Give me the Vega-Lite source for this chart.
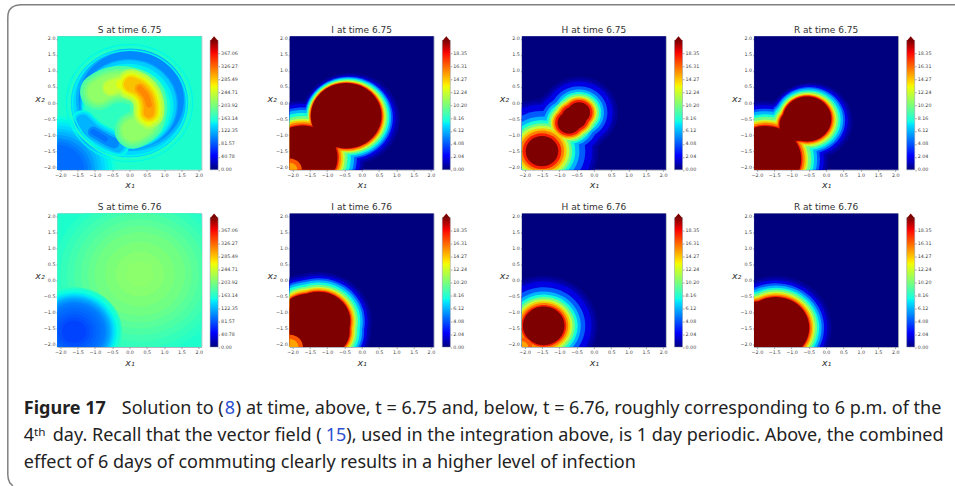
{"$schema":"https://vega.github.io/schema/vega-lite/v6.json","padding":{"left":4.5,"top":1.25,"right":0,"bottom":0},"background":"white","bounds":"flush","columns":8,"spacing":{"row":43.3,"column":8.6},
"config":{"legend":{"disable":true},"range":{"ramp":["#00007f","#0000ff","#007fff","#14ffe2","#7aff7a","#e2ff14","#ff9700","#ff2100","#7f0000"]},"view":{"stroke":"#8a93a0","strokeWidth":0.8},"point":{"filled":true,"opacity":1,"shape":"M1,0C1,.512,.552,.927,0,.927C-.552,.927,-1,.512,-1,0C-1,-.512,-.552,-.927,0,-.927C.552,-.927,1,-.512,1,0Z"},"rect":{"stroke":"#8a93a0","strokeWidth":0.5,"color":{"gradient":"linear","x1":0,"y1":1,"x2":0,"y2":0,"stops":[{"offset":0,"color":"#00007f"},{"offset":0.11,"color":"#0000ff"},{"offset":0.35,"color":"#00e5ff"},{"offset":0.375,"color":"#14ffe2"},{"offset":0.5,"color":"#7aff7a"},{"offset":0.64,"color":"#eeff08"},{"offset":0.66,"color":"#ffec00"},{"offset":0.89,"color":"#ff1300"},{"offset":0.91,"color":"#f60000"},{"offset":1,"color":"#7f0000"}]}},"axis":{"grid":false,"domain":false,"labelOverlap":false,"labelFontSize":4.8,"labelFont":"DejaVu Sans","labelColor":"#444444","labelPadding":1,"tickSize":1.5,"tickWidth":0.5,"tickColor":"#444444","titleFont":"DejaVu Sans","titleFontSize":9.5,"titleFontWeight":"normal","titleFontStyle":"italic","titleColor":"#333333"},"axisX":{"titleBaseline":"middle","titleY":15},"axisY":{"titleAngle":0,"titleAlign":"center","titleBaseline":"middle","titleX":-18,"titleY":62},"title":{"font":"DejaVu Sans","fontSize":9,"fontWeight":"normal","color":"#333333","offset":1}},
"datasets":{
"cbS":[{"lo":0,"hi":407.85,"tip":414}],
"cbI":[{"lo":0,"hi":20.39,"tip":20.7}],
"s675":[{"x":0,"y":0,"r":4,"v":165},{"x":-2.1,"y":-2.1,"r":1.7,"v":157},{"x":-2.1,"y":-2.1,"r":1.6,"v":150},{"x":-2.1,"y":-2.1,"r":1.5,"v":142},{"x":-2.1,"y":-2.1,"r":1.4,"v":135},{"x":-2.1,"y":-2.1,"r":1.3,"v":127},{"x":-2.1,"y":-2.1,"r":1.2,"v":120},{"x":-2.1,"y":-2.1,"r":1.1,"v":112},{"x":-2.1,"y":-2.1,"r":1.0,"v":105},{"x":-2.1,"y":-2.1,"r":0.9,"v":98},{"x":-2.1,"y":-2.1,"r":0.8,"v":90},{"x":0,"y":0,"r":1.7,"v":135},{"x":0.05,"y":0.1,"r":1.6,"v":120},{"x":0.05,"y":0.1,"r":1.52,"v":105},{"x":-0.02,"y":-0.05,"r":1.42,"v":115},{"x":-0.02,"y":-0.05,"r":1.38,"v":130},{"x":-0.05,"y":-0.1,"r":1.32,"v":145},{"x":-0.08,"y":-0.15,"r":1.26,"v":160},{"x":-0.1,"y":-0.15,"r":1.2,"v":172}],
"s675l":[
{"id":"01","k":0,"x":-1.35,"y":-0.6,"r":0.36,"v":150},{"id":"01","k":1,"x":-1.05,"y":-0.9,"r":0.36,"v":150},{"id":"01","k":2,"x":-0.7,"y":-1.12,"r":0.36,"v":150},{"id":"01","k":3,"x":-0.35,"y":-1.3,"r":0.36,"v":150},
{"id":"02","k":0,"x":-1.35,"y":-0.6,"r":0.3,"v":135},{"id":"02","k":1,"x":-1.05,"y":-0.9,"r":0.3,"v":135},{"id":"02","k":2,"x":-0.7,"y":-1.12,"r":0.3,"v":135},{"id":"02","k":3,"x":-0.35,"y":-1.3,"r":0.3,"v":135},
{"id":"03","k":0,"x":-1.35,"y":-0.6,"r":0.23,"v":120},{"id":"03","k":1,"x":-1.05,"y":-0.9,"r":0.23,"v":120},{"id":"03","k":2,"x":-0.7,"y":-1.12,"r":0.23,"v":120},{"id":"03","k":3,"x":-0.35,"y":-1.3,"r":0.23,"v":120},
{"id":"04","k":0,"x":-1.05,"y":-0.9,"r":0.16,"v":105},{"id":"04","k":1,"x":-0.7,"y":-1.12,"r":0.16,"v":105},{"id":"04","k":2,"x":-0.45,"y":-1.25,"r":0.16,"v":105},
{"id":"05","k":0,"x":-1.05,"y":-0.9,"r":0.08,"v":92},{"id":"05","k":1,"x":-0.7,"y":-1.12,"r":0.08,"v":92},
{"id":"06","k":0,"x":-0.9,"y":0.35,"r":0.55,"v":185},{"id":"06","k":1,"x":-0.5,"y":0.55,"r":0.55,"v":185},{"id":"06","k":2,"x":0,"y":0.55,"r":0.55,"v":185},{"id":"06","k":3,"x":0.45,"y":0.3,"r":0.55,"v":185},{"id":"06","k":4,"x":0.55,"y":-0.1,"r":0.55,"v":185},{"id":"06","k":5,"x":0.45,"y":-0.6,"r":0.55,"v":185},{"id":"06","k":6,"x":0.1,"y":-0.85,"r":0.55,"v":185},
{"id":"07","k":0,"x":-0.9,"y":0.35,"r":0.47,"v":195},{"id":"07","k":1,"x":-0.5,"y":0.55,"r":0.47,"v":195},{"id":"07","k":2,"x":0,"y":0.55,"r":0.47,"v":195},{"id":"07","k":3,"x":0.45,"y":0.3,"r":0.47,"v":195},{"id":"07","k":4,"x":0.55,"y":-0.1,"r":0.47,"v":195},{"id":"07","k":5,"x":0.45,"y":-0.6,"r":0.47,"v":195},{"id":"07","k":6,"x":0.1,"y":-0.85,"r":0.47,"v":195},
{"id":"08","k":0,"x":-0.9,"y":0.35,"r":0.4,"v":205},{"id":"08","k":1,"x":-0.5,"y":0.55,"r":0.4,"v":205},{"id":"08","k":2,"x":0,"y":0.55,"r":0.4,"v":205},{"id":"08","k":3,"x":0.45,"y":0.3,"r":0.4,"v":205},{"id":"08","k":4,"x":0.55,"y":-0.1,"r":0.4,"v":205},{"id":"08","k":5,"x":0.45,"y":-0.6,"r":0.4,"v":205},{"id":"08","k":6,"x":0.1,"y":-0.85,"r":0.4,"v":205},
{"id":"09","k":0,"x":-0.9,"y":0.35,"r":0.33,"v":215},{"id":"09","k":1,"x":-0.5,"y":0.55,"r":0.33,"v":215},{"id":"09","k":2,"x":0,"y":0.55,"r":0.33,"v":215},{"id":"09","k":3,"x":0.45,"y":0.3,"r":0.33,"v":215},{"id":"09","k":4,"x":0.55,"y":-0.1,"r":0.33,"v":215},{"id":"09","k":5,"x":0.45,"y":-0.6,"r":0.33,"v":215},{"id":"09","k":6,"x":0.1,"y":-0.85,"r":0.33,"v":215},
{"id":"10","k":0,"x":-0.55,"y":0.48,"r":0.26,"v":228},{"id":"10","k":1,"x":-0.25,"y":0.58,"r":0.26,"v":228},{"id":"10","k":2,"x":0.05,"y":0.58,"r":0.26,"v":228},{"id":"10","k":3,"x":0.3,"y":0.45,"r":0.26,"v":228},{"id":"10","k":4,"x":0.48,"y":0.22,"r":0.26,"v":228},{"id":"10","k":5,"x":0.56,"y":-0.05,"r":0.26,"v":228},{"id":"10","k":6,"x":0.56,"y":-0.3,"r":0.26,"v":228},{"id":"10","k":7,"x":0.55,"y":-0.55,"r":0.26,"v":228},
{"id":"11","k":0,"x":0.05,"y":0.58,"r":0.46,"v":228},{"id":"11","k":1,"x":0.3,"y":0.45,"r":0.46,"v":228},{"id":"11","k":2,"x":0.48,"y":0.22,"r":0.46,"v":228},{"id":"11","k":3,"x":0.56,"y":-0.05,"r":0.46,"v":228},{"id":"11","k":4,"x":0.56,"y":-0.3,"r":0.46,"v":228},
{"id":"12","k":0,"x":-0.55,"y":0.48,"r":0.2,"v":242},{"id":"12","k":1,"x":-0.25,"y":0.58,"r":0.2,"v":242},{"id":"12","k":2,"x":0.05,"y":0.58,"r":0.2,"v":242},{"id":"12","k":3,"x":0.3,"y":0.45,"r":0.2,"v":242},{"id":"12","k":4,"x":0.48,"y":0.22,"r":0.2,"v":242},{"id":"12","k":5,"x":0.56,"y":-0.05,"r":0.2,"v":242},{"id":"12","k":6,"x":0.56,"y":-0.3,"r":0.2,"v":242},{"id":"12","k":7,"x":0.55,"y":-0.55,"r":0.2,"v":242},
{"id":"13","k":0,"x":0.05,"y":0.58,"r":0.4,"v":242},{"id":"13","k":1,"x":0.3,"y":0.45,"r":0.4,"v":242},{"id":"13","k":2,"x":0.48,"y":0.22,"r":0.4,"v":242},{"id":"13","k":3,"x":0.56,"y":-0.05,"r":0.4,"v":242},{"id":"13","k":4,"x":0.56,"y":-0.3,"r":0.4,"v":242},
{"id":"14","k":0,"x":-0.25,"y":0.58,"r":0.14,"v":256},{"id":"14","k":1,"x":0.05,"y":0.58,"r":0.14,"v":256},{"id":"14","k":2,"x":0.3,"y":0.45,"r":0.14,"v":256},{"id":"14","k":3,"x":0.48,"y":0.22,"r":0.14,"v":256},{"id":"14","k":4,"x":0.56,"y":-0.05,"r":0.14,"v":256},{"id":"14","k":5,"x":0.56,"y":-0.3,"r":0.14,"v":256},{"id":"14","k":6,"x":0.55,"y":-0.55,"r":0.14,"v":256},
{"id":"15","k":0,"x":0.05,"y":0.58,"r":0.34,"v":256},{"id":"15","k":1,"x":0.3,"y":0.45,"r":0.34,"v":256},{"id":"15","k":2,"x":0.48,"y":0.22,"r":0.34,"v":256},{"id":"15","k":3,"x":0.56,"y":-0.05,"r":0.34,"v":256},{"id":"15","k":4,"x":0.56,"y":-0.3,"r":0.34,"v":256},
{"id":"16","k":0,"x":0.05,"y":0.58,"r":0.28,"v":270},{"id":"16","k":1,"x":0.3,"y":0.45,"r":0.28,"v":270},{"id":"16","k":2,"x":0.48,"y":0.22,"r":0.28,"v":270},{"id":"16","k":3,"x":0.56,"y":-0.05,"r":0.28,"v":270},{"id":"16","k":4,"x":0.56,"y":-0.3,"r":0.28,"v":270},
{"id":"17","k":0,"x":0.05,"y":0.58,"r":0.22,"v":285},{"id":"17","k":1,"x":0.3,"y":0.45,"r":0.22,"v":285},{"id":"17","k":2,"x":0.48,"y":0.22,"r":0.22,"v":285},{"id":"17","k":3,"x":0.56,"y":-0.05,"r":0.22,"v":285},{"id":"17","k":4,"x":0.56,"y":-0.3,"r":0.22,"v":285},
{"id":"18","k":0,"x":0.3,"y":0.45,"r":0.16,"v":300},{"id":"18","k":1,"x":0.48,"y":0.22,"r":0.16,"v":300},{"id":"18","k":2,"x":0.56,"y":-0.05,"r":0.16,"v":300},{"id":"18","k":3,"x":0.56,"y":-0.3,"r":0.16,"v":300},
{"id":"19","k":0,"x":0.3,"y":0.45,"r":0.09,"v":315},{"id":"19","k":1,"x":0.48,"y":0.22,"r":0.09,"v":315},{"id":"19","k":2,"x":0.56,"y":-0.05,"r":0.09,"v":315}],
"s675r":[{"x":0,"y":0,"r":1.82,"v":150},{"x":0,"y":0,"r":1.72,"v":170},{"x":0,"y":0,"r":1.64,"v":150}],
"i675":[{"x":0,"y":0,"r":4,"v":0},{"x":-1.7,"y":-1.7,"r":1.78,"v":0.5},{"x":-0.33,"y":-0.5,"r":1.43,"v":0.5},{"x":-1.7,"y":-1.7,"r":1.72,"v":1},{"x":-0.34,"y":-0.49,"r":1.38,"v":1},{"x":-1.7,"y":-1.7,"r":1.665,"v":2},{"x":-0.36,"y":-0.48,"r":1.33,"v":2},{"x":-1.7,"y":-1.7,"r":1.56,"v":4},{"x":-0.38,"y":-0.46,"r":1.28,"v":4},{"x":-1.7,"y":-1.7,"r":1.48,"v":6},{"x":-0.39,"y":-0.45,"r":1.24,"v":6},{"x":-1.7,"y":-1.7,"r":1.385,"v":8},{"x":-0.4,"y":-0.44,"r":1.2,"v":8},{"x":-1.7,"y":-1.7,"r":1.29,"v":10},{"x":-0.41,"y":-0.43,"r":1.16,"v":10},{"x":-1.7,"y":-1.7,"r":1.21,"v":12},{"x":-0.42,"y":-0.42,"r":1.12,"v":12},{"x":-1.7,"y":-1.7,"r":1.155,"v":14},{"x":-0.43,"y":-0.42,"r":1.09,"v":14},{"x":-1.7,"y":-1.7,"r":1.1,"v":16},{"x":-0.44,"y":-0.41,"r":1.07,"v":16},{"x":-1.7,"y":-1.7,"r":1.04,"v":18},{"x":-0.44,"y":-0.4,"r":1.04,"v":18},{"x":-1.7,"y":-1.7,"r":1,"v":20.39},{"x":-0.45,"y":-0.4,"r":1.02,"v":20.39},{"x":-2.08,"y":-2.08,"r":0.35,"v":17},{"x":-2.08,"y":-2.08,"r":0.22,"v":15}],
"h675":[{"x":0,"y":0,"r":4,"v":0},{"x":-1.5,"y":-1.5,"r":1.62,"v":0.5},{"x":-0.43,"y":-0.3,"r":1.12,"v":0.5},{"x":-0.72,"y":-0.62,"r":1.13,"v":0.5},{"x":-1.5,"y":-1.5,"r":1.53,"v":1},{"x":-0.43,"y":-0.3,"r":1.04,"v":1},{"x":-0.72,"y":-0.62,"r":1.05,"v":1},{"x":-1.5,"y":-1.5,"r":1.45,"v":2},{"x":-0.43,"y":-0.3,"r":0.97,"v":2},{"x":-0.72,"y":-0.62,"r":0.98,"v":2},{"x":-1.5,"y":-1.5,"r":1.25,"v":4},{"x":-0.43,"y":-0.3,"r":0.82,"v":4},{"x":-0.72,"y":-0.62,"r":0.83,"v":4},{"x":-1.5,"y":-1.5,"r":1.08,"v":6},{"x":-0.43,"y":-0.3,"r":0.72,"v":6},{"x":-0.72,"y":-0.62,"r":0.73,"v":6},{"x":-1.5,"y":-1.5,"r":0.96,"v":8},{"x":-0.43,"y":-0.3,"r":0.64,"v":8},{"x":-0.72,"y":-0.62,"r":0.65,"v":8},{"x":-1.5,"y":-1.5,"r":0.87,"v":10},{"x":-0.43,"y":-0.3,"r":0.58,"v":10},{"x":-0.72,"y":-0.62,"r":0.59,"v":10},{"x":-0.57,"y":-0.46,"r":0.62,"v":10},{"x":-1.5,"y":-1.5,"r":0.79,"v":12},{"x":-0.43,"y":-0.3,"r":0.52,"v":12},{"x":-0.72,"y":-0.62,"r":0.53,"v":12},{"x":-0.57,"y":-0.46,"r":0.56,"v":12},{"x":-1.5,"y":-1.5,"r":0.71,"v":14},{"x":-0.43,"y":-0.3,"r":0.48,"v":14},{"x":-0.72,"y":-0.62,"r":0.49,"v":14},{"x":-0.57,"y":-0.46,"r":0.52,"v":14},{"x":-1.5,"y":-1.5,"r":0.64,"v":16},{"x":-0.43,"y":-0.3,"r":0.44,"v":16},{"x":-0.72,"y":-0.62,"r":0.45,"v":16},{"x":-0.57,"y":-0.46,"r":0.48,"v":16},{"x":-1.5,"y":-1.5,"r":0.56,"v":18},{"x":-0.43,"y":-0.3,"r":0.39,"v":18},{"x":-0.72,"y":-0.62,"r":0.4,"v":18},{"x":-0.57,"y":-0.46,"r":0.43,"v":18},{"x":-1.5,"y":-1.5,"r":0.47,"v":20.39},{"x":-0.43,"y":-0.3,"r":0.32,"v":20.39},{"x":-0.72,"y":-0.62,"r":0.33,"v":20.39},{"x":-0.57,"y":-0.46,"r":0.36,"v":20.39}],
"r675":[{"x":0,"y":0,"r":4,"v":0},{"x":-1.75,"y":-1.75,"r":1.81,"v":0.5},{"x":-0.44,"y":-0.57,"r":1.2,"v":0.5},{"x":-0.85,"y":-0.68,"r":1,"v":0.5},{"x":-1.75,"y":-1.75,"r":1.74,"v":1},{"x":-0.45,"y":-0.56,"r":1.15,"v":1},{"x":-0.85,"y":-0.68,"r":0.95,"v":1},{"x":-1.75,"y":-1.75,"r":1.68,"v":2},{"x":-0.47,"y":-0.55,"r":1.1,"v":2},{"x":-0.85,"y":-0.68,"r":0.9,"v":2},{"x":-1.75,"y":-1.75,"r":1.57,"v":4},{"x":-0.49,"y":-0.54,"r":1.04,"v":4},{"x":-0.85,"y":-0.68,"r":0.84,"v":4},{"x":-1.75,"y":-1.75,"r":1.49,"v":6},{"x":-0.5,"y":-0.53,"r":0.99,"v":6},{"x":-0.85,"y":-0.68,"r":0.79,"v":6},{"x":-1.75,"y":-1.75,"r":1.4,"v":8},{"x":-0.51,"y":-0.53,"r":0.93,"v":8},{"x":-0.85,"y":-0.68,"r":0.73,"v":8},{"x":-1.75,"y":-1.75,"r":1.32,"v":10},{"x":-0.52,"y":-0.52,"r":0.88,"v":10},{"x":-0.85,"y":-0.68,"r":0.68,"v":10},{"x":-1.75,"y":-1.75,"r":1.23,"v":12},{"x":-0.53,"y":-0.52,"r":0.83,"v":12},{"x":-0.85,"y":-0.68,"r":0.63,"v":12},{"x":-1.75,"y":-1.75,"r":1.18,"v":14},{"x":-0.53,"y":-0.51,"r":0.79,"v":14},{"x":-0.85,"y":-0.68,"r":0.59,"v":14},{"x":-1.75,"y":-1.75,"r":1.13,"v":16},{"x":-0.54,"y":-0.51,"r":0.76,"v":16},{"x":-0.85,"y":-0.68,"r":0.56,"v":16},{"x":-1.75,"y":-1.75,"r":1.07,"v":18},{"x":-0.55,"y":-0.5,"r":0.73,"v":18},{"x":-0.85,"y":-0.68,"r":0.53,"v":18},{"x":-1.75,"y":-1.75,"r":1.03,"v":20.39},{"x":-0.55,"y":-0.5,"r":0.7,"v":20.39},{"x":-0.85,"y":-0.68,"r":0.5,"v":20.39}],
"s676":[{"x":0,"y":0,"r":4,"v":165},{"x":0.3,"y":0.2,"r":2.5,"v":170},{"x":0.3,"y":0.2,"r":2.3,"v":175},{"x":0.3,"y":0.2,"r":2.1,"v":180},{"x":0.3,"y":0.2,"r":1.9,"v":185},{"x":0.3,"y":0.2,"r":1.7,"v":190},{"x":0.3,"y":0.2,"r":1.5,"v":195},{"x":0.3,"y":0.2,"r":1.3,"v":200},{"x":0.3,"y":0.2,"r":1,"v":205},{"x":0.3,"y":0.2,"r":0.7,"v":210},{"x":0.3,"y":0.2,"r":0.4,"v":213},{"x":-1.6,"y":-1.6,"r":1.38,"v":170},{"x":-1.6,"y":-1.6,"r":1.33,"v":162},{"x":-1.6,"y":-1.6,"r":1.28,"v":155},{"x":-1.6,"y":-1.6,"r":1.23,"v":147},{"x":-1.6,"y":-1.6,"r":1.18,"v":140},{"x":-1.6,"y":-1.6,"r":1.14,"v":132},{"x":-1.6,"y":-1.6,"r":1.1,"v":125},{"x":-1.6,"y":-1.6,"r":1.06,"v":118},{"x":-1.6,"y":-1.6,"r":1.02,"v":112},{"x":-1.6,"y":-1.6,"r":0.96,"v":106},{"x":-1.6,"y":-1.6,"r":0.9,"v":100},{"x":-1.6,"y":-1.6,"r":0.82,"v":95},{"x":-1.6,"y":-1.6,"r":0.75,"v":90},{"x":-1.6,"y":-1.6,"r":0.65,"v":84},{"x":-1.6,"y":-1.6,"r":0.55,"v":78},{"x":-1.6,"y":-1.6,"r":0.45,"v":73},{"x":-1.6,"y":-1.6,"r":0.35,"v":68}],
"i676":[{"x":0,"y":0,"r":4,"v":0},{"x":-1.25,"y":-1.28,"r":1.54,"v":0.5},{"x":-1.1,"y":-1.6,"r":1.37,"v":0.5},{"x":-1.55,"y":-1.3,"r":1.5,"v":0.5},{"x":-1.25,"y":-1.28,"r":1.48,"v":1},{"x":-1.1,"y":-1.6,"r":1.31,"v":1},{"x":-1.55,"y":-1.3,"r":1.44,"v":1},{"x":-1.25,"y":-1.28,"r":1.42,"v":2},{"x":-1.1,"y":-1.6,"r":1.25,"v":2},{"x":-1.55,"y":-1.3,"r":1.38,"v":2},{"x":-1.25,"y":-1.28,"r":1.34,"v":4},{"x":-1.1,"y":-1.6,"r":1.17,"v":4},{"x":-1.55,"y":-1.3,"r":1.3,"v":4},{"x":-1.25,"y":-1.28,"r":1.28,"v":6},{"x":-1.1,"y":-1.6,"r":1.11,"v":6},{"x":-1.55,"y":-1.3,"r":1.24,"v":6},{"x":-1.25,"y":-1.28,"r":1.21,"v":8},{"x":-1.1,"y":-1.6,"r":1.04,"v":8},{"x":-1.55,"y":-1.3,"r":1.17,"v":8},{"x":-1.25,"y":-1.28,"r":1.14,"v":10},{"x":-1.1,"y":-1.6,"r":0.97,"v":10},{"x":-1.55,"y":-1.3,"r":1.1,"v":10},{"x":-1.25,"y":-1.28,"r":1.08,"v":12},{"x":-1.1,"y":-1.6,"r":0.91,"v":12},{"x":-1.55,"y":-1.3,"r":1.04,"v":12},{"x":-1.25,"y":-1.28,"r":1.04,"v":14},{"x":-1.1,"y":-1.6,"r":0.87,"v":14},{"x":-1.55,"y":-1.3,"r":1,"v":14},{"x":-1.25,"y":-1.28,"r":0.99,"v":16},{"x":-1.1,"y":-1.6,"r":0.82,"v":16},{"x":-1.55,"y":-1.3,"r":0.95,"v":16},{"x":-1.25,"y":-1.28,"r":0.95,"v":18},{"x":-1.1,"y":-1.6,"r":0.78,"v":18},{"x":-1.55,"y":-1.3,"r":0.91,"v":18},{"x":-1.25,"y":-1.28,"r":0.92,"v":20.39},{"x":-1.1,"y":-1.6,"r":0.75,"v":20.39},{"x":-1.55,"y":-1.3,"r":0.88,"v":20.39},{"x":-2.08,"y":-2.08,"r":0.38,"v":17},{"x":-2.08,"y":-2.08,"r":0.25,"v":15}],
"h676":[{"x":0,"y":0,"r":4,"v":0},{"x":-1.45,"y":-1.42,"r":1.55,"v":0.5},{"x":-1.45,"y":-1.42,"r":1.47,"v":1},{"x":-1.45,"y":-1.42,"r":1.38,"v":2},{"x":-1.45,"y":-1.42,"r":1.2,"v":4},{"x":-1.45,"y":-1.42,"r":1.07,"v":6},{"x":-1.45,"y":-1.42,"r":0.98,"v":8},{"x":-1.45,"y":-1.42,"r":0.9,"v":10},{"x":-1.45,"y":-1.42,"r":0.83,"v":12},{"x":-1.45,"y":-1.42,"r":0.77,"v":14},{"x":-1.45,"y":-1.42,"r":0.71,"v":16},{"x":-1.45,"y":-1.42,"r":0.65,"v":18},{"x":-1.45,"y":-1.42,"r":0.6,"v":20.39},{"x":-2.08,"y":-2.08,"r":0.3,"v":17},{"x":-2.08,"y":-2.08,"r":0.18,"v":15}],
"r676":[{"x":0,"y":0,"r":4,"v":0},{"x":-1.45,"y":-1.48,"r":1.61,"v":0.5},{"x":-1.9,"y":-1.5,"r":1.5,"v":0.5},{"x":-1.45,"y":-1.48,"r":1.54,"v":1},{"x":-1.9,"y":-1.5,"r":1.43,"v":1},{"x":-1.45,"y":-1.48,"r":1.48,"v":2},{"x":-1.9,"y":-1.5,"r":1.37,"v":2},{"x":-1.45,"y":-1.48,"r":1.39,"v":4},{"x":-1.9,"y":-1.5,"r":1.28,"v":4},{"x":-1.45,"y":-1.48,"r":1.32,"v":6},{"x":-1.9,"y":-1.5,"r":1.21,"v":6},{"x":-1.45,"y":-1.48,"r":1.25,"v":8},{"x":-1.9,"y":-1.5,"r":1.14,"v":8},{"x":-1.45,"y":-1.48,"r":1.19,"v":10},{"x":-1.9,"y":-1.5,"r":1.08,"v":10},{"x":-1.45,"y":-1.48,"r":1.13,"v":12},{"x":-1.9,"y":-1.5,"r":1.02,"v":12},{"x":-1.45,"y":-1.48,"r":1.08,"v":14},{"x":-1.9,"y":-1.5,"r":0.97,"v":14},{"x":-1.45,"y":-1.48,"r":1.04,"v":16},{"x":-1.9,"y":-1.5,"r":0.93,"v":16},{"x":-1.45,"y":-1.48,"r":0.99,"v":18},{"x":-1.9,"y":-1.5,"r":0.88,"v":18},{"x":-1.45,"y":-1.48,"r":0.96,"v":20.39},{"x":-1.9,"y":-1.5,"r":0.85,"v":20.39}],
"frame":[{"k":0,"x":955,"y":4},{"k":1,"x":20,"y":4},{"k":2,"x":15,"y":4.7},{"k":3,"x":11,"y":6.7},{"k":4,"x":8.5,"y":9.5},{"k":5,"x":7.3,"y":13},{"k":6,"x":7,"y":17},{"k":7,"x":7,"y":474},{"k":8,"x":7.5,"y":478},{"k":9,"x":9,"y":482},{"k":10,"x":12,"y":485}],
"head":[{"x":23,"y":413,"text":"Figure 17"}],
"body":[{"x":121,"y":413,"text":"Solution to (","kind":"body"},{"x":224,"y":413,"text":"8","kind":"link"},{"x":235,"y":413,"text":") at time, above, t = 6.75 and, below, t = 6.76, roughly corresponding to 6 p.m. of the","kind":"body"},{"x":23,"y":440,"text":"4ᵗʰ","kind":"body"},{"x":52,"y":440,"text":"day. Recall that the vector field (","kind":"body"},{"x":325,"y":440,"text":"15","kind":"link"},{"x":345.5,"y":440,"text":"), used in the integration above, is 1 day periodic. Above, the combined","kind":"body"},{"x":23,"y":467,"text":"effect of 6 days of commuting clearly results in a higher level of infection","kind":"body"}]
},
"concat":[
{"title":"S at time 6.75","width":144,"height":133.5,"encoding":{"x":{"field":"x","type":"quantitative","scale":{"domain":[-2.08,2.08],"nice":false,"zero":false},"axis":{"title":"x₁","format":".1f","tickCount":9}},"y":{"field":"y","type":"quantitative","scale":{"domain":[-2.08,2.08],"nice":false,"zero":false},"axis":{"title":"x₂","format":".1f","tickCount":9}},"color":{"field":"v","type":"quantitative","scale":{"domain":[0,407.85]}}},"layer":[{"data":{"name":"s675"},"mark":{"type":"point","clip":true},"encoding":{"size":{"field":"r","type":"quantitative","scale":{"type":"pow","exponent":2,"domain":[0,4],"range":[0,76839]}}}},{"data":{"name":"s675l"},"mark":{"type":"line","clip":true,"interpolate":"cardinal","strokeCap":"round","strokeJoin":"round"},"encoding":{"detail":{"field":"id","type":"nominal"},"order":{"field":"k","type":"quantitative"},"strokeWidth":{"field":"r","type":"quantitative","scale":{"type":"linear","domain":[0,4],"range":[0,267]}}}},{"data":{"name":"s675r"},"mark":{"type":"point","clip":true,"filled":false,"strokeWidth":1.2},"encoding":{"size":{"field":"r","type":"quantitative","scale":{"type":"pow","exponent":2,"domain":[0,4],"range":[0,76839]}}}}]},
{"width":70.4,"height":133.5,"view":{"stroke":null},"data":{"name":"cbS"},"layer":[{"mark":"rect","encoding":{"x":{"datum":0,"type":"quantitative","scale":{"domain":[0,70.4],"nice":false},"axis":null},"x2":{"datum":8},"y":{"field":"lo","type":"quantitative","scale":{"domain":[0,421.4],"nice":false},"axis":{"title":null,"orient":"right","offset":-62.4,"format":".2f","tickCount":10,"values":[0,40.78,81.57,122.35,163.14,203.92,244.71,285.49,326.27,367.06]}},"y2":{"field":"hi"}}},{"mark":{"type":"point","shape":"M-1,.6L0,-.6L1,.6Z","size":64,"color":"#7f0000"},"encoding":{"x":{"datum":4,"type":"quantitative"},"y":{"field":"tip","type":"quantitative"}}}]},
{"title":"I at time 6.75","width":144,"height":133.5,"data":{"name":"i675"},"mark":{"type":"point","clip":true},"encoding":{"x":{"field":"x","type":"quantitative","scale":{"domain":[-2.08,2.08],"nice":false,"zero":false},"axis":{"title":"x₁","format":".1f","tickCount":9}},"y":{"field":"y","type":"quantitative","scale":{"domain":[-2.08,2.08],"nice":false,"zero":false},"axis":{"title":"x₂","format":".1f","tickCount":9}},"size":{"field":"r","type":"quantitative","scale":{"type":"pow","exponent":2,"domain":[0,4],"range":[0,76839]}},"color":{"field":"v","type":"quantitative","scale":{"domain":[0,20.39]}}}},
{"width":70.4,"height":133.5,"view":{"stroke":null},"data":{"name":"cbI"},"layer":[{"mark":"rect","encoding":{"x":{"datum":0,"type":"quantitative","scale":{"domain":[0,70.4],"nice":false},"axis":null},"x2":{"datum":8},"y":{"field":"lo","type":"quantitative","scale":{"domain":[0,21.07],"nice":false},"axis":{"title":null,"orient":"right","offset":-62.4,"format":".2f","tickCount":10,"values":[0,2.04,4.08,6.12,8.16,10.2,12.24,14.27,16.31,18.35]}},"y2":{"field":"hi"}}},{"mark":{"type":"point","shape":"M-1,.6L0,-.6L1,.6Z","size":64,"color":"#7f0000"},"encoding":{"x":{"datum":4,"type":"quantitative"},"y":{"field":"tip","type":"quantitative"}}}]},
{"title":"H at time 6.75","width":144,"height":133.5,"data":{"name":"h675"},"mark":{"type":"point","clip":true},"encoding":{"x":{"field":"x","type":"quantitative","scale":{"domain":[-2.08,2.08],"nice":false,"zero":false},"axis":{"title":"x₁","format":".1f","tickCount":9}},"y":{"field":"y","type":"quantitative","scale":{"domain":[-2.08,2.08],"nice":false,"zero":false},"axis":{"title":"x₂","format":".1f","tickCount":9}},"size":{"field":"r","type":"quantitative","scale":{"type":"pow","exponent":2,"domain":[0,4],"range":[0,76839]}},"color":{"field":"v","type":"quantitative","scale":{"domain":[0,20.39]}}}},
{"width":70.4,"height":133.5,"view":{"stroke":null},"data":{"name":"cbI"},"layer":[{"mark":"rect","encoding":{"x":{"datum":0,"type":"quantitative","scale":{"domain":[0,70.4],"nice":false},"axis":null},"x2":{"datum":8},"y":{"field":"lo","type":"quantitative","scale":{"domain":[0,21.07],"nice":false},"axis":{"title":null,"orient":"right","offset":-62.4,"format":".2f","tickCount":10,"values":[0,2.04,4.08,6.12,8.16,10.2,12.24,14.27,16.31,18.35]}},"y2":{"field":"hi"}}},{"mark":{"type":"point","shape":"M-1,.6L0,-.6L1,.6Z","size":64,"color":"#7f0000"},"encoding":{"x":{"datum":4,"type":"quantitative"},"y":{"field":"tip","type":"quantitative"}}}]},
{"title":"R at time 6.75","width":144,"height":133.5,"data":{"name":"r675"},"mark":{"type":"point","clip":true},"encoding":{"x":{"field":"x","type":"quantitative","scale":{"domain":[-2.08,2.08],"nice":false,"zero":false},"axis":{"title":"x₁","format":".1f","tickCount":9}},"y":{"field":"y","type":"quantitative","scale":{"domain":[-2.08,2.08],"nice":false,"zero":false},"axis":{"title":"x₂","format":".1f","tickCount":9}},"size":{"field":"r","type":"quantitative","scale":{"type":"pow","exponent":2,"domain":[0,4],"range":[0,76839]}},"color":{"field":"v","type":"quantitative","scale":{"domain":[0,20.39]}}}},
{"width":70.4,"height":133.5,"view":{"stroke":null},"data":{"name":"cbI"},"layer":[{"mark":"rect","encoding":{"x":{"datum":0,"type":"quantitative","scale":{"domain":[0,70.4],"nice":false},"axis":null},"x2":{"datum":8},"y":{"field":"lo","type":"quantitative","scale":{"domain":[0,21.07],"nice":false},"axis":{"title":null,"orient":"right","offset":-62.4,"format":".2f","tickCount":10,"values":[0,2.04,4.08,6.12,8.16,10.2,12.24,14.27,16.31,18.35]}},"y2":{"field":"hi"}}},{"mark":{"type":"point","shape":"M-1,.6L0,-.6L1,.6Z","size":64,"color":"#7f0000"},"encoding":{"x":{"datum":4,"type":"quantitative"},"y":{"field":"tip","type":"quantitative"}}}]},
{"title":"S at time 6.76","width":144,"height":133.5,"data":{"name":"s676"},"mark":{"type":"point","clip":true},"encoding":{"x":{"field":"x","type":"quantitative","scale":{"domain":[-2.08,2.08],"nice":false,"zero":false},"axis":{"title":"x₁","format":".1f","tickCount":9}},"y":{"field":"y","type":"quantitative","scale":{"domain":[-2.08,2.08],"nice":false,"zero":false},"axis":{"title":"x₂","format":".1f","tickCount":9}},"size":{"field":"r","type":"quantitative","scale":{"type":"pow","exponent":2,"domain":[0,4],"range":[0,76839]}},"color":{"field":"v","type":"quantitative","scale":{"domain":[0,407.85]}}}},
{"width":70.4,"height":133.5,"view":{"stroke":null},"data":{"name":"cbS"},"layer":[{"mark":"rect","encoding":{"x":{"datum":0,"type":"quantitative","scale":{"domain":[0,70.4],"nice":false},"axis":null},"x2":{"datum":8},"y":{"field":"lo","type":"quantitative","scale":{"domain":[0,421.4],"nice":false},"axis":{"title":null,"orient":"right","offset":-62.4,"format":".2f","tickCount":10,"values":[0,40.78,81.57,122.35,163.14,203.92,244.71,285.49,326.27,367.06]}},"y2":{"field":"hi"}}},{"mark":{"type":"point","shape":"M-1,.6L0,-.6L1,.6Z","size":64,"color":"#7f0000"},"encoding":{"x":{"datum":4,"type":"quantitative"},"y":{"field":"tip","type":"quantitative"}}}]},
{"title":"I at time 6.76","width":144,"height":133.5,"data":{"name":"i676"},"mark":{"type":"point","clip":true},"encoding":{"x":{"field":"x","type":"quantitative","scale":{"domain":[-2.08,2.08],"nice":false,"zero":false},"axis":{"title":"x₁","format":".1f","tickCount":9}},"y":{"field":"y","type":"quantitative","scale":{"domain":[-2.08,2.08],"nice":false,"zero":false},"axis":{"title":"x₂","format":".1f","tickCount":9}},"size":{"field":"r","type":"quantitative","scale":{"type":"pow","exponent":2,"domain":[0,4],"range":[0,76839]}},"color":{"field":"v","type":"quantitative","scale":{"domain":[0,20.39]}}}},
{"width":70.4,"height":133.5,"view":{"stroke":null},"data":{"name":"cbI"},"layer":[{"mark":"rect","encoding":{"x":{"datum":0,"type":"quantitative","scale":{"domain":[0,70.4],"nice":false},"axis":null},"x2":{"datum":8},"y":{"field":"lo","type":"quantitative","scale":{"domain":[0,21.07],"nice":false},"axis":{"title":null,"orient":"right","offset":-62.4,"format":".2f","tickCount":10,"values":[0,2.04,4.08,6.12,8.16,10.2,12.24,14.27,16.31,18.35]}},"y2":{"field":"hi"}}},{"mark":{"type":"point","shape":"M-1,.6L0,-.6L1,.6Z","size":64,"color":"#7f0000"},"encoding":{"x":{"datum":4,"type":"quantitative"},"y":{"field":"tip","type":"quantitative"}}}]},
{"title":"H at time 6.76","width":144,"height":133.5,"data":{"name":"h676"},"mark":{"type":"point","clip":true},"encoding":{"x":{"field":"x","type":"quantitative","scale":{"domain":[-2.08,2.08],"nice":false,"zero":false},"axis":{"title":"x₁","format":".1f","tickCount":9}},"y":{"field":"y","type":"quantitative","scale":{"domain":[-2.08,2.08],"nice":false,"zero":false},"axis":{"title":"x₂","format":".1f","tickCount":9}},"size":{"field":"r","type":"quantitative","scale":{"type":"pow","exponent":2,"domain":[0,4],"range":[0,76839]}},"color":{"field":"v","type":"quantitative","scale":{"domain":[0,20.39]}}}},
{"width":70.4,"height":133.5,"view":{"stroke":null},"data":{"name":"cbI"},"layer":[{"mark":"rect","encoding":{"x":{"datum":0,"type":"quantitative","scale":{"domain":[0,70.4],"nice":false},"axis":null},"x2":{"datum":8},"y":{"field":"lo","type":"quantitative","scale":{"domain":[0,21.07],"nice":false},"axis":{"title":null,"orient":"right","offset":-62.4,"format":".2f","tickCount":10,"values":[0,2.04,4.08,6.12,8.16,10.2,12.24,14.27,16.31,18.35]}},"y2":{"field":"hi"}}},{"mark":{"type":"point","shape":"M-1,.6L0,-.6L1,.6Z","size":64,"color":"#7f0000"},"encoding":{"x":{"datum":4,"type":"quantitative"},"y":{"field":"tip","type":"quantitative"}}}]},
{"title":"R at time 6.76","width":144,"height":133.5,"data":{"name":"r676"},"mark":{"type":"point","clip":true},"encoding":{"x":{"field":"x","type":"quantitative","scale":{"domain":[-2.08,2.08],"nice":false,"zero":false},"axis":{"title":"x₁","format":".1f","tickCount":9}},"y":{"field":"y","type":"quantitative","scale":{"domain":[-2.08,2.08],"nice":false,"zero":false},"axis":{"title":"x₂","format":".1f","tickCount":9}},"size":{"field":"r","type":"quantitative","scale":{"type":"pow","exponent":2,"domain":[0,4],"range":[0,76839]}},"color":{"field":"v","type":"quantitative","scale":{"domain":[0,20.39]}}}},
{"width":70.4,"height":133.5,"view":{"stroke":null},"data":{"name":"cbI"},"layer":[{"mark":"rect","encoding":{"x":{"datum":0,"type":"quantitative","scale":{"domain":[0,70.4],"nice":false},"axis":null},"x2":{"datum":8},"y":{"field":"lo","type":"quantitative","scale":{"domain":[0,21.07],"nice":false},"axis":{"title":null,"orient":"right","offset":-62.4,"format":".2f","tickCount":10,"values":[0,2.04,4.08,6.12,8.16,10.2,12.24,14.27,16.31,18.35]}},"y2":{"field":"hi"}}},{"mark":{"type":"point","shape":"M-1,.6L0,-.6L1,.6Z","size":64,"color":"#7f0000"},"encoding":{"x":{"datum":4,"type":"quantitative"},"y":{"field":"tip","type":"quantitative"}}}]},
{"width":144,"height":95.9,"view":{"stroke":null},"encoding":{"x":{"field":"x","type":"quantitative","scale":{"domain":[56.7,200.7],"nice":false,"zero":false},"axis":null},"y":{"field":"y","type":"quantitative","scale":{"domain":[390.1,486],"nice":false,"zero":false,"reverse":true},"axis":null}},"layer":[
{"data":{"name":"frame"},"mark":{"type":"line","color":"#808080","strokeWidth":1.5},"encoding":{"order":{"field":"k","type":"quantitative"}}},
{"data":{"name":"head"},"mark":{"type":"text","align":"left","baseline":"alphabetic","font":"Noto Sans","fontSize":18,"fontWeight":"bold","color":"#222222"},"encoding":{"text":{"field":"text"}}},
{"data":{"name":"body"},"mark":{"type":"text","align":"left","baseline":"alphabetic","font":"Noto Sans","fontSize":18},"encoding":{"text":{"field":"text"},"color":{"field":"kind","type":"nominal","scale":{"domain":["body","link"],"range":["#222222","#2a4fd0"]}}}}
]}
]}
